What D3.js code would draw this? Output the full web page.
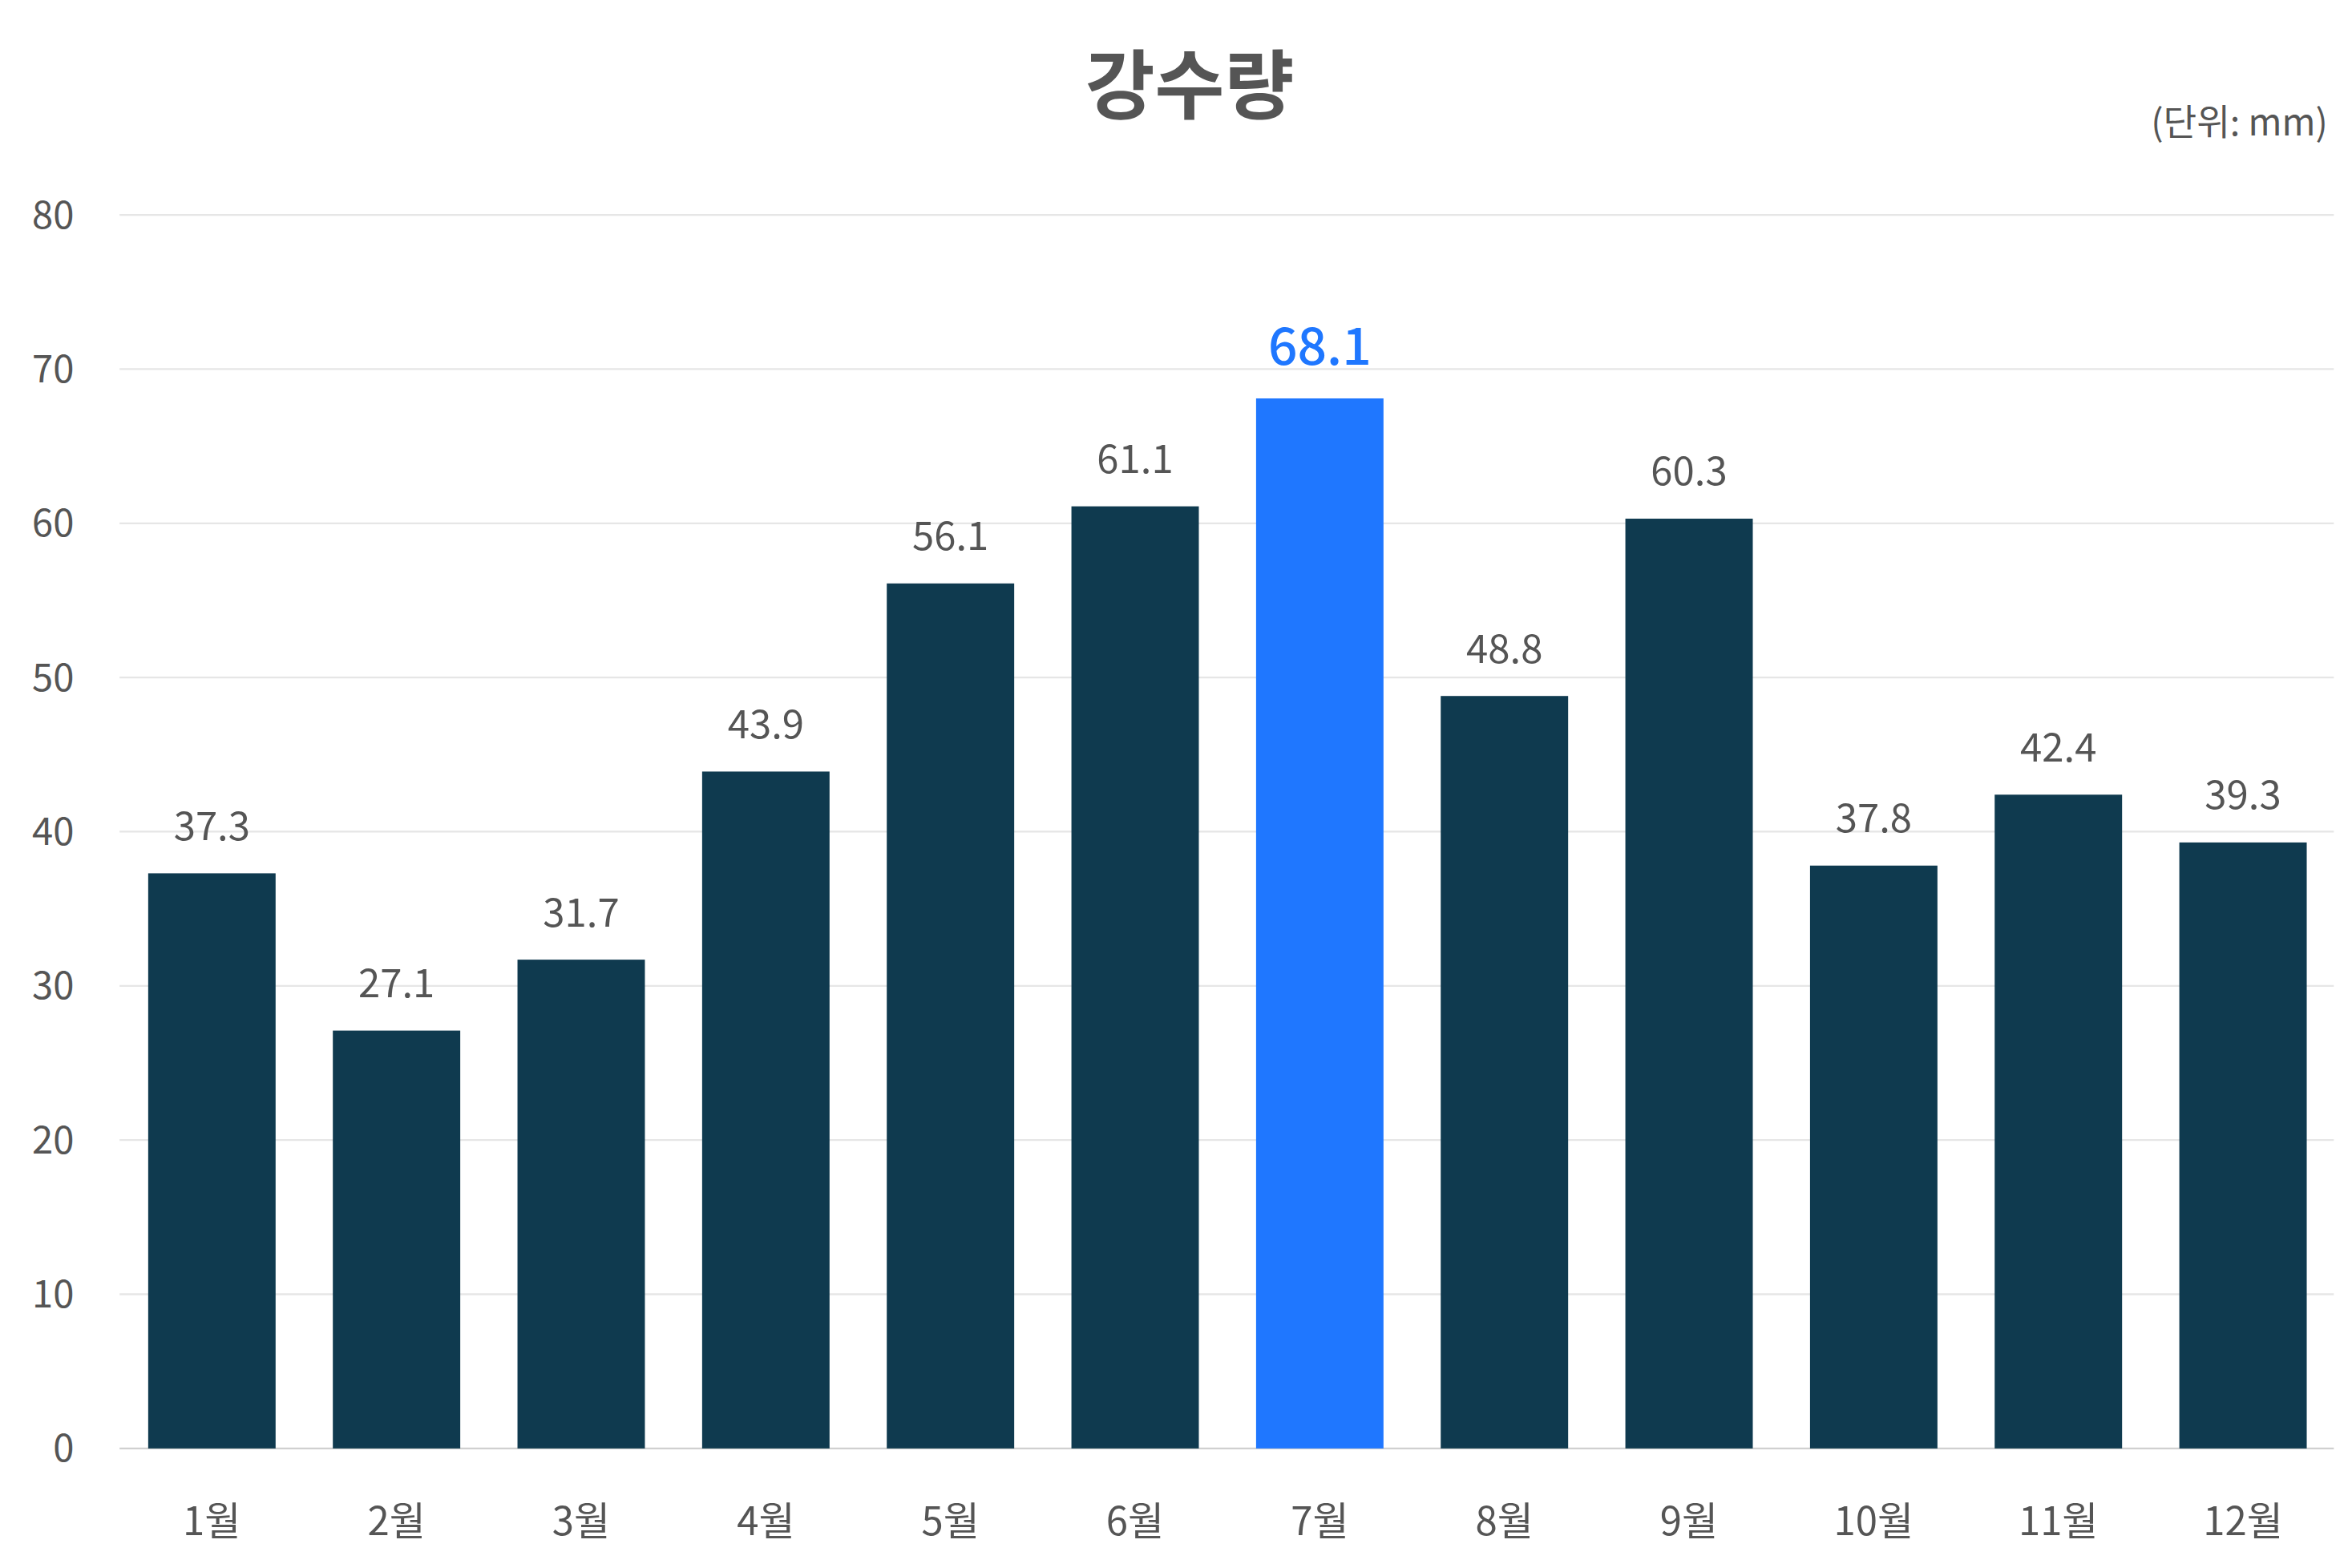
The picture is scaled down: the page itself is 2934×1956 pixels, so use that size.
<!DOCTYPE html>
<html><head><meta charset="utf-8">
<script src="https://cdn.jsdelivr.net/npm/d3@7"></script>
<style>body{margin:0;background:#fff}text{font-family:"Noto Sans CJK KR","Noto Sans",sans-serif}</style>
</head><body>
<script>
var months = ["1월","2월","3월","4월","5월","6월","7월","8월","9월","10월","11월","12월"];
var rain = [37.3,27.1,31.7,43.9,56.1,61.1,68.1,48.8,60.3,37.8,42.4,39.3];
var yTicks = [0,10,20,30,40,50,60,70,80];
var highlight = "7월";

var W = 1552, H = 1036;
var svg = d3.select("body").append("svg")
  .attr("width", 2934).attr("height", 1956)
  .attr("viewBox", "0 0 " + W + " " + H);

var x = d3.scaleBand().domain(months).range([78, 1542]).paddingInner(0.31).paddingOuter(0.155);
var y = d3.scaleLinear().domain([0, 80]).range([957, 142]);

// grid
svg.append("g").selectAll("line").data(yTicks).join("line")
  .attr("x1", 78).attr("x2", 1541)
  .attr("y1", d => y(d)).attr("y2", d => y(d))
  .attr("stroke", d => d === 0 ? "#d0d0d0" : "#e6e6e6").attr("stroke-width", 1.2);

// y labels
svg.append("g").selectAll("text").data(yTicks).join("text")
  .attr("x", 48).attr("y", d => y(d)).attr("dy", "0.35em")
  .attr("text-anchor", "end").attr("font-size", 25).attr("fill", "#555")
  .text(d => d);

// bars
svg.append("g").selectAll("rect").data(months).join("rect")
  .attr("x", d => x(d)).attr("width", x.bandwidth())
  .attr("y", (d, i) => y(rain[i])).attr("height", (d, i) => y(0) - y(rain[i]))
  .attr("fill", d => d === highlight ? "#1f77ff" : "#0f3a4f");

// value labels
svg.append("g").selectAll("text").data(months).join("text")
  .attr("x", d => x(d) + x.bandwidth() / 2)
  .attr("y", (d, i) => y(rain[i]) - 22)
  .attr("text-anchor", "middle")
  .attr("font-size", d => d === highlight ? 34 : 26)
  .attr("font-weight", d => d === highlight ? 500 : 400)
  .attr("fill", d => d === highlight ? "#1f77ff" : "#555")
  .text((d, i) => rain[i].toFixed(1));

// x labels
svg.append("g").selectAll("text").data(months).join("text")
  .attr("x", d => x(d) + x.bandwidth() / 2).attr("y", 1005).attr("dy", "0.35em")
  .attr("text-anchor", "middle").attr("font-size", 26).attr("fill", "#555")
  .text(d => d);

svg.append("text").attr("x", 785).attr("y", 57).attr("dy", "0.35em")
  .attr("text-anchor", "middle").attr("font-size", 50).attr("font-weight", 700)
  .attr("fill", "#555").text("강수량");

svg.append("text").attr("x", 1537).attr("y", 81).attr("dy", "0.35em")
  .attr("text-anchor", "end").attr("font-size", 24).attr("fill", "#555")
  .text("(단위: mm)");
</script>
</body></html>
